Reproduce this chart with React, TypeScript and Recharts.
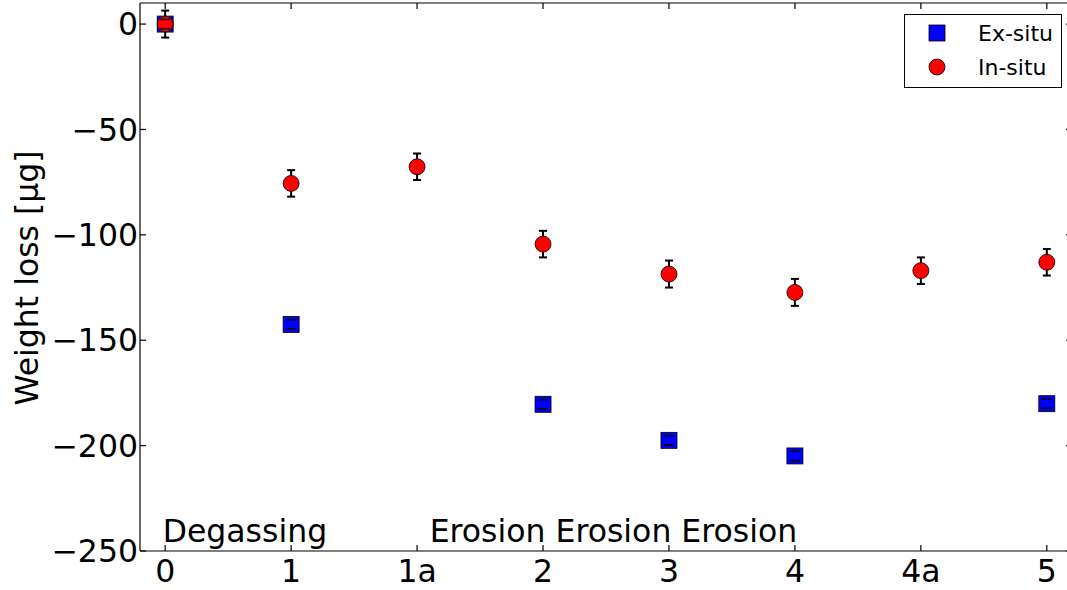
import React from 'react';
import { ScatterChart, Scatter, XAxis, YAxis, ErrorBar, Legend } from 'recharts';

const categories = ['0', '1', '1a', '2', '3', '4', '4a', '5'];
const inSituValues = [0, -75.6, -67.7, -104.4, -118.6, -127.3, -117.0, -113.0];
const inSituErrors = [6.4, 6.3, 6.3, 6.3, 6.4, 6.4, 6.3, 6.3];
const exSituCategories = ['0', '1', '2', '3', '4', '5'];
const exSituValues = [0, -142.5, -180.4, -197.5, -204.9, -180.1];
const exSituErrors = [2.2, 2.2, 2.2, 2.2, 2.2, 2.2];
const yTicks = [-250, -200, -150, -100, -50, 0];
const annotationTexts = ['Degassing', 'Erosion Erosion Erosion'];
const annotationX = [-0.02, 2.1];
const annotationY = [-245.5, -245.5];
const legendLabels = ['Ex-situ', 'In-situ'];
const yLabel = 'Weight loss [µg]';

const FONT = "'DejaVu Sans', sans-serif";
const FS = 31.5;

const inSituData = categories.map((c, i) => ({ x: i, y: inSituValues[i], err: inSituErrors[i] }));
const exSituData = exSituCategories.map((c, i) => ({
  x: categories.indexOf(c),
  y: exSituValues[i],
  err: exSituErrors[i],
}));
const exSituCapData = exSituData.flatMap((d) => [
  { x: d.x, y: d.y + d.err },
  { x: d.x, y: d.y - d.err },
]);
const annotationData = annotationTexts.map((t, i) => ({ x: annotationX[i], y: annotationY[i], text: t }));

const fmt = (v: number) => (v < 0 ? '\u2212' + Math.abs(v) : String(v));
const blank = () => '';

const Square = (p: any) => (
  <rect x={p.cx - 8} y={p.cy - 8} width={16} height={16} fill="#0000ff" stroke="#000" strokeWidth={0.8} />
);
const Dot = (p: any) => <circle cx={p.cx} cy={p.cy} r={8} fill="#ff0000" stroke="#000" strokeWidth={0.8} />;
const Cap = (p: any) => (
  <line x1={p.cx - 5} x2={p.cx + 5} y1={p.cy} y2={p.cy} stroke="#000" strokeWidth={1.6} />
);
const Empty = () => <g />;
const Annot = (p: any) => (
  <text x={p.cx} y={p.cy} textAnchor="start" fontSize={FS} fontFamily={FONT} fill="#000">
    {p.payload.text}
  </text>
);

const renderLegend = () => (
  <svg width={158} height={75} style={{ display: 'block' }}>
    <rect x={0.5} y={0.5} width={157} height={73} fill="#fff" stroke="#000" strokeWidth={1} />
    <rect x={25} y={11} width={16} height={16} fill="#0000ff" stroke="#000" strokeWidth={0.8} />
    <circle cx={33} cy={53} r={8} fill="#ff0000" stroke="#000" strokeWidth={0.8} />
    <text x={74} y={27} fontSize={22} fontFamily={FONT} fill="#000">{legendLabels[0]}</text>
    <text x={74} y={61} fontSize={22} fontFamily={FONT} fill="#000">{legendLabels[1]}</text>
  </svg>
);

const renderYLabel = () => (
  <text
    x={38}
    y={278}
    transform="rotate(-90 38 278)"
    textAnchor="middle"
    fontSize={FS}
    fontFamily={FONT}
    fill="#000"
  >
    {yLabel}
  </text>
);

export default function App() {
  const xTicks = categories.map((_, i) => i);
  return (
    <div
      style={{
        position: 'fixed',
        left: 0,
        top: 0,
        width: 1067,
        height: 590,
        overflow: 'hidden',
        background: '#fff',
        fontFamily: FONT,
      }}
    >
      <ScatterChart width={1080} height={590} margin={{ top: 2, right: 0, bottom: 0, left: 0 }}>
        <XAxis
          dataKey="x"
          type="number"
          domain={[-0.2, 7.2]}
          ticks={xTicks}
          interval={0}
          allowDataOverflow
          tickFormatter={(v: number) => categories[v]}
          height={39}
          tickSize={-6}
          tickMargin={15}
          axisLine={{ stroke: '#000', strokeWidth: 1.2 }}
          tickLine={{ stroke: '#000', strokeWidth: 1.2 }}
          tick={{ fill: '#000', fontSize: FS, fontFamily: FONT }}
        />
        <XAxis
          xAxisId="top"
          orientation="top"
          dataKey="x"
          type="number"
          domain={[-0.2, 7.2]}
          ticks={xTicks}
          interval={0}
          allowDataOverflow
          height={1}
          tickSize={-6}
          tickFormatter={blank}
          tick={{ fill: '#000', fontSize: 1 }}
          axisLine={{ stroke: '#000', strokeWidth: 1.2 }}
          tickLine={{ stroke: '#000', strokeWidth: 1.2 }}
        />
        <YAxis
          dataKey="y"
          type="number"
          domain={[-250, 10]}
          ticks={yTicks}
          interval={0}
          allowDataOverflow
          width={140}
          tickSize={-6}
          tickMargin={8}
          tickFormatter={fmt}
          axisLine={{ stroke: '#000', strokeWidth: 1.2 }}
          tickLine={{ stroke: '#000', strokeWidth: 1.2 }}
          tick={{ fill: '#000', fontSize: FS, fontFamily: FONT }}
          label={renderYLabel}
        />
        <YAxis
          yAxisId="right"
          orientation="right"
          dataKey="y"
          type="number"
          domain={[-250, 10]}
          ticks={yTicks}
          interval={0}
          allowDataOverflow
          width={8}
          tickSize={-6}
          tickFormatter={blank}
          tick={{ fill: '#000', fontSize: 1 }}
          axisLine={{ stroke: '#000', strokeWidth: 1.2 }}
          tickLine={{ stroke: '#000', strokeWidth: 1.2 }}
        />
        <Scatter
          name="frame"
          xAxisId="top"
          yAxisId="right"
          data={inSituData}
          shape={Empty}
          isAnimationActive={false}
          legendType="none"
        />
        <Scatter name="Ex-situ" data={exSituData} shape={Square} isAnimationActive={false} legendType="square" />
        <Scatter name="In-situ bars" data={inSituData} shape={Empty} isAnimationActive={false} legendType="none">
          <ErrorBar dataKey="err" direction="y" width={4} stroke="#000" strokeWidth={2} isAnimationActive={false} />
        </Scatter>
        <Scatter name="In-situ" data={inSituData} shape={Dot} isAnimationActive={false} legendType="circle" />
        <Scatter name="Ex-situ caps" data={exSituCapData} shape={Cap} isAnimationActive={false} legendType="none" />
        <Scatter name="Annotations" data={annotationData} shape={Annot} isAnimationActive={false} legendType="none" />
        <Legend
          layout="horizontal"
          verticalAlign="middle"
          align="center"
          content={renderLegend}
          wrapperStyle={{ left: 904, top: 14, width: 158, height: 75 }}
        />
      </ScatterChart>
    </div>
  );
}
